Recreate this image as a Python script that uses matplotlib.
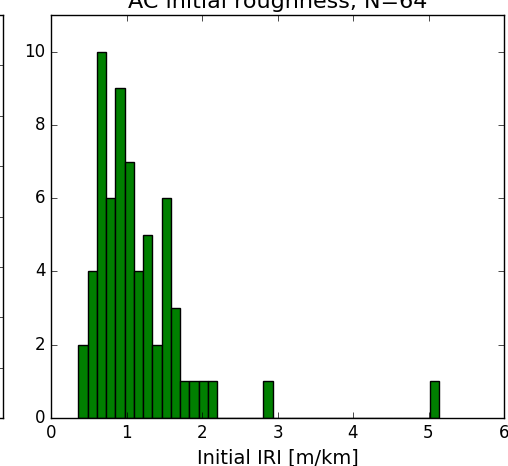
import numpy as np
import matplotlib
matplotlib.use('Agg')
import matplotlib.pyplot as plt

plt.style.use('classic')

# histogram of initial IRI values (counts)
bin_start = 0.362
bin_width = 0.1225
counts = [2, 4, 10, 6, 9, 7, 4, 5, 2, 6, 3, 1, 1, 1, 1,
          0, 0, 0, 0, 0, 1,
          0, 0, 0, 0, 0, 0, 0, 0, 0, 0, 0, 0, 0, 0, 0, 0, 0, 1]
title = 'AC initial roughness, N=%d' % sum(counts)
xlabel = 'Initial IRI [m/km]'

edges = bin_start + bin_width * np.arange(len(counts) + 1)
centers = 0.5 * (edges[:-1] + edges[1:])

fig = plt.figure(figsize=(5.08, 4.66), dpi=100)
fig.patch.set_facecolor('white')

# right edge of the neighbouring subplot, mostly outside the crop
ax_left = fig.add_axes([-0.8, 0.1030, 0.8 + 3 / 508.0, 0.8648])
ax_left.set_ylim(0, 8)
ax_left.set_xlim(0, 1)
ax_left.set_xticks([])
ax_left.set_yticks(np.arange(1, 8))
ax_left.tick_params(labelleft=False, labelright=False)

ax = fig.add_axes([51 / 508.0, 0.1030, 453 / 508.0, 0.8648])
ax.hist(centers, bins=edges, weights=counts, color='g', edgecolor='k')
ax.set_xlim(0, 6)
ax.set_ylim(0, 11)
ax.set_yticks(np.arange(0, 11, 2))
ax.set_title(title, fontsize=16)
ax.set_xlabel(xlabel, fontsize=14)

fig.savefig('out.png', dpi=100, facecolor='white')
